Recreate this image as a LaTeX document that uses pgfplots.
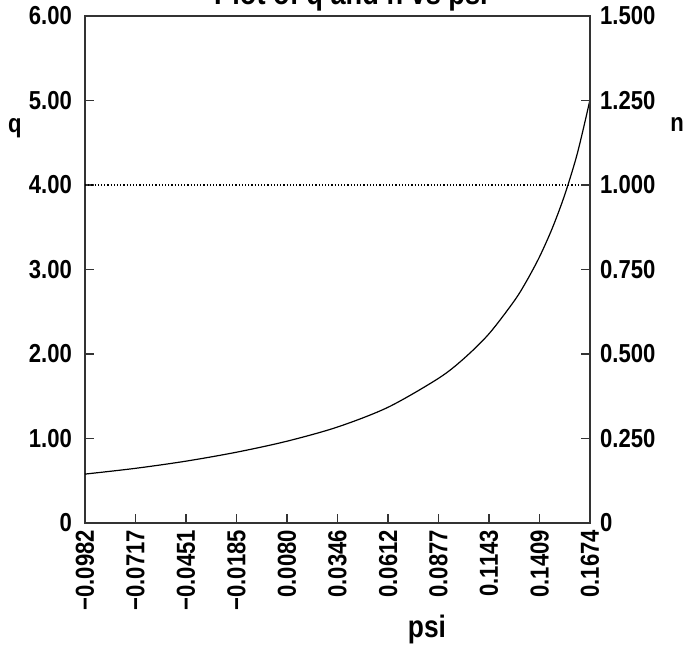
\documentclass[border=0pt]{standalone}
\usepackage{fontspec}
\setmainfont{Liberation Sans}[FakeStretch=0.85]
\usepackage{pgfplots}
\pgfplotsset{compat=1.18}

\tikzset{lbl/.style={font=\fontsize{13}{14}\selectfont\bfseries}}
\pgfplotsset{
  frame/.style={
    width=252.5pt, height=253.5pt, scale only axis,
    xmin=-0.0982, xmax=0.1674,
    tick align=inside,
    major tick length=4.5pt,
    axis line style={line width=0.8pt, black!80},
    tick style={line width=0.8pt, black!80},
  },
}

% q against psi
\pgfplotstableread{
psi q
-0.0982 0.579
-0.0717 0.647
-0.0451 0.732
-0.0185 0.838
0.0080 0.968
0.0346 1.136
0.0612 1.370
0.0877 1.712
0.1010 1.945
0.1143 2.240
0.1276 2.630
0.1341 2.866
0.1409 3.153
0.1476 3.491
0.1541 3.884
0.1608 4.379
0.1674 5.010
}\qdata

\begin{document}
\begin{tikzpicture}
\begin{axis}[
  frame,
  ymin=0, ymax=6,
  xtick pos=bottom, ytick pos=left,
  xtick={-0.0982,-0.0717,-0.0451,-0.0185,0.0080,0.0346,0.0612,0.0877,0.1143,0.1409,0.1674},
  xticklabels={−0.0982,−0.0717,−0.0451,−0.0185,0.0080,0.0346,0.0612,0.0877,0.1143,0.1409,0.1674},
  xticklabel style={lbl, rotate=90, anchor=east},
  ytick={0,1,2,3,4,5,6},
  yticklabels={0,1.00,2.00,3.00,4.00,5.00,6.00},
  yticklabel style={lbl, xshift=-3pt},
]
\addplot[black, densely dotted, line width=0.6pt] coordinates {(-0.0982,4) (0.1674,4)};
\addplot[black, line width=0.6pt, smooth] table[x=psi, y=q] {\qdata};
\end{axis}

\begin{axis}[
  frame,
  ymin=0, ymax=1.5,
  axis x line=none, axis y line*=right,
  ytick={0,0.25,0.5,0.75,1,1.25,1.5},
  yticklabels={0,0.250,0.500,0.750,1.000,1.250,1.500},
  yticklabel style={lbl, xshift=1.5pt},
]
\end{axis}

\node[lbl] at (-35pt,197.25pt) {q};
\node[lbl] at (296pt,199.25pt) {n};
\node[font=\fontsize{15.5}{18}\selectfont\bfseries, anchor=base] at (171pt,-57.25pt) {psi};
\node[font=\fontsize{16}{18}\selectfont\bfseries, anchor=base] at (133pt,259.25pt) {Plot of q and n vs psi};

\pgfresetboundingbox
\path[use as bounding box] (-42.5pt,-65.75pt) rectangle (304.5pt,261.5pt);
\end{tikzpicture}
\end{document}
